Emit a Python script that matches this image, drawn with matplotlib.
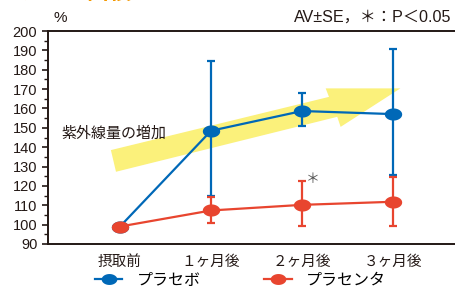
import numpy as np
import matplotlib
matplotlib.use("Agg")
import matplotlib.pyplot as plt
from matplotlib.path import Path
from matplotlib.patches import Polygon

plt.rcParams['font.family'] = ['Liberation Sans', 'Noto Sans CJK JP', 'DejaVu Sans']

# data
categories = ["摂取前", "１ヶ月後", "２ヶ月後", "３ヶ月後"]
placebo_mean = [99, 148.5, 158.7, 157.1]
placebo_hi = [99, 184.3, 168.1, 191.0]
placebo_lo = [99, 114.7, 150.9, 125.6]
placenta_mean = [99, 107.3, 110.2, 111.8]
placenta_hi = [99, 114.5, 122.5, 124.7]
placenta_lo = [99, 100.9, 99.2, 99.4]
series_names = ["プラセボ", "プラセンタ"]

blue = '#0068b7'
red = '#e8452f'
dark = '#231815'

# elliptic marker
t = np.linspace(0, 2 * np.pi, 64)
ellipse = Path(np.column_stack([np.cos(t), 0.7 * np.sin(t)]), closed=True)

fig = plt.figure(figsize=(4.56, 2.88), dpi=100)
ax = fig.add_axes([0.1046, 0.153, 0.8954, 0.739])

x = np.arange(len(categories))

# yellow arrow (background decoration)
arrow = [(-0.10, 138.5), (2.295, 166.0), (2.259, 170.4), (3.079, 170.4),
         (2.423, 150.5), (2.386, 155.7), (-0.044, 127.3)]
ax.add_patch(Polygon(arrow, closed=True, facecolor='#fbf17b', edgecolor='none', zorder=1))
ax.text(-0.64, 147.3, "紫外線量の増加", fontsize=10.8, color=dark, va='center', ha='left', zorder=2)


def draw(mean, hi, lo, color, z):
    mean = np.array(mean)
    yerr = [mean - np.array(lo), np.array(hi) - mean]
    ax.errorbar(x, mean, yerr=yerr, color=color, ecolor=color, elinewidth=1.6,
                capsize=2.6, capthick=1.6, lw=1.6, zorder=z, fmt='none')
    line, = ax.plot(x, mean, color=color, lw=1.6, marker=ellipse, markersize=12.5,
                    markeredgewidth=0, zorder=z + 0.5)
    return line


h1 = draw(placebo_mean, placebo_hi, placebo_lo, blue, 3)
h2 = draw(placenta_mean, placenta_hi, placenta_lo, red, 4)

ax.text(2.12, 123.5, "＊", fontsize=10, color='#555555', ha='center', va='center')

ax.set_xlim(-0.794, 3.69)
ax.set_ylim(90, 200)
ax.set_yticks(np.arange(90, 201, 10))
ax.set_yticks(np.arange(95, 200, 10), minor=True)
ax.set_xticks(x)
ax.set_xticklabels(categories, fontsize=10.5, color=dark)
ax.tick_params(axis='x', length=0, pad=8)
ax.tick_params(axis='y', which='major', length=4.5, width=1.2, color=dark,
               labelsize=10.5, labelcolor=dark, pad=3)
ax.tick_params(axis='y', which='minor', length=3, width=1.0, color=dark)

for s in ['left', 'bottom', 'top']:
    ax.spines[s].set_linewidth(1.4)
    ax.spines[s].set_color(dark)
ax.spines['right'].set_visible(False)

# header texts
fig.text(60 / 456, 1 - 18 / 288, "%", fontsize=11, color=dark, ha='center', va='center')
fig.text(451 / 456, 1 - 17 / 288, "AV±SE，＊：P＜0.05", fontsize=11.6, color=dark,
         ha='right', va='center')
fig.text(20 / 456, 1 + 7 / 288, "シミの面積", fontsize=16, fontweight='bold',
         color='#f39800', ha='left', va='center', family=['Noto Sans CJK JP'])

fig.legend([h1, h2], series_names, loc='center left', bbox_to_anchor=(95 / 456, 1 - 280 / 288),
           ncol=2, frameon=False, fontsize=11.5, handlelength=1.7, handletextpad=0.9,
           columnspacing=4.0, borderpad=0, borderaxespad=0, markerscale=0.9)

fig.savefig("out.png", dpi=100)
